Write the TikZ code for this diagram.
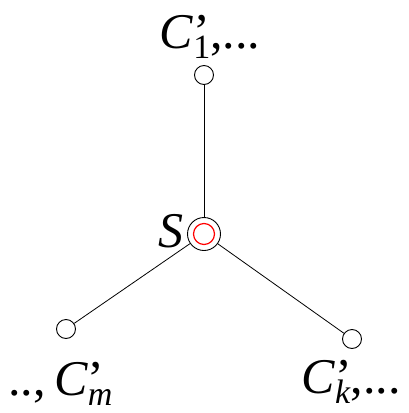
\documentclass[tikz,border=0pt]{standalone}
\usepackage{fontspec}
\setmainfont{Liberation Serif}
\newcommand{\cname}[1]{\textit{C}\rlap{’}\raisebox{-0.2em}{\fontsize{34}{34}\selectfont #1}}
\begin{document}
\begin{tikzpicture}[x=1pt,y=-1pt,line cap=round,line join=round]
	\tikzset{
		leaf/.style={draw,circle,minimum size=19pt,inner sep=0pt,line width=0.9pt},
		hub/.style={draw,circle,minimum size=33pt,inner sep=0pt,line width=0.9pt},
		core/.style={draw=red,circle,minimum size=21pt,inner sep=0pt,line width=1.2pt},
		edge/.style={line width=0.8pt},
		lbl/.style={font=\fontsize{50}{50}\selectfont,inner sep=0pt}
	}
	\useasboundingbox (0,0) rectangle (409,413);
	
	\node[hub] (s) at (204,234) {};
	\node[core] (sc) at (s) {};
	\node[leaf] (c1) at (204,75) {};
	\node[leaf] (cm) at (66,329) {};
	\node[leaf] (ck) at (352,339) {};
	
	\draw[edge] (s) -- (c1);
	\draw[edge] (s) -- (cm);
	\draw[edge] (s) -- (ck);
	
	\node[lbl,anchor=base east] (ls) at (184,247) {\textit{S}};
	\node[lbl,anchor=base] (l1) at (210,48) {\cname{1},...};
	\node[lbl,anchor=base west] (lm) at (8,395) {..,\,\cname{\textit{m}}};
	\node[lbl,anchor=base east] (lk) at (401,393) {\cname{\textit{k}},...};
\end{tikzpicture}
\end{document}
